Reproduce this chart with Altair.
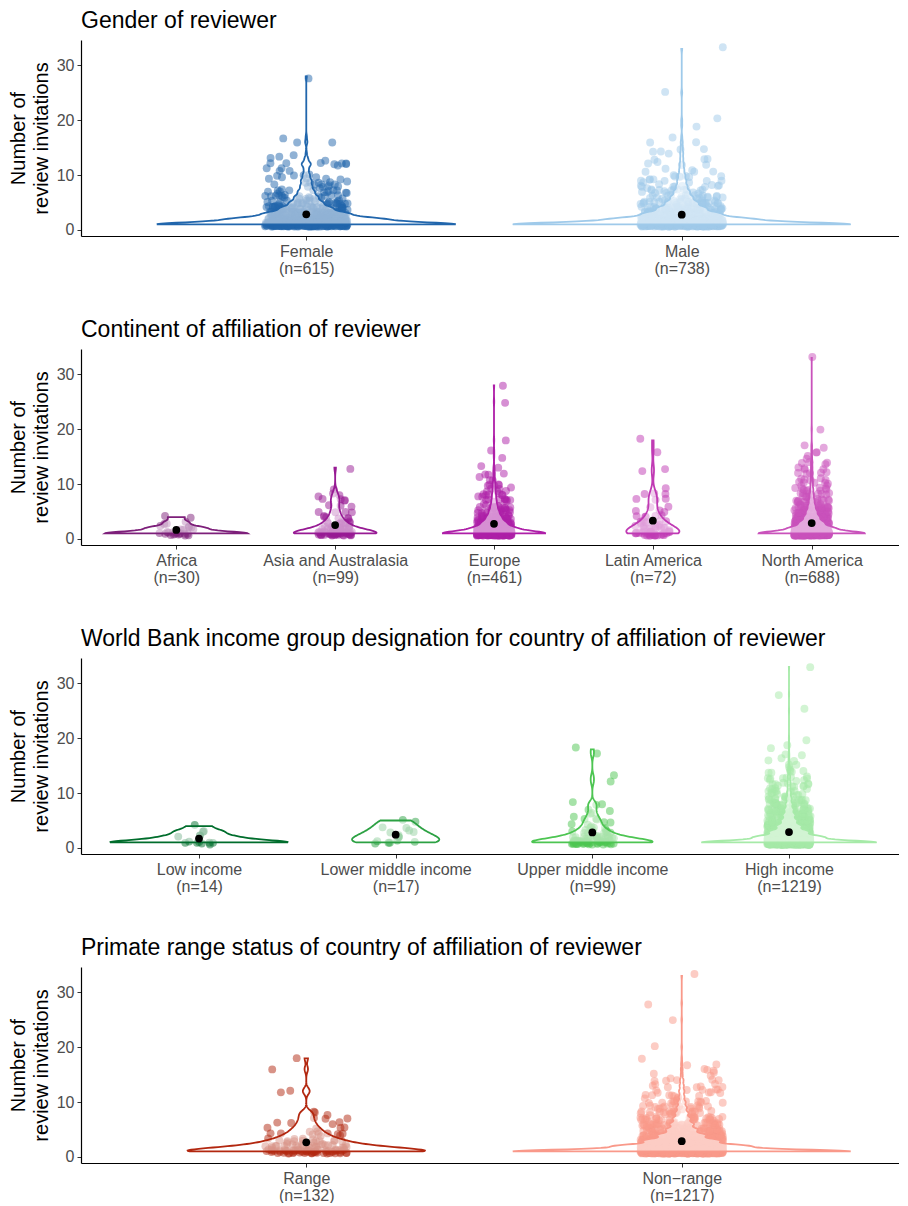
import json
import altair as alt
import pandas as pd

FONT = "Liberation Sans"

# ---------------- data: value (number of review invitations) -> count of reviewers
GENDER_TITLE = "Gender of reviewer"
GENDER_CATS = ["Female", "Male"]
GENDER_N = [615, 738]
GENDER_COLORS = ["#2166ac", "#9fcaea"]
FEMALE_VALUES = [1, 2, 3, 4, 5, 6, 7, 8, 9, 10, 11, 12, 13, 14, 16, 17, 28]
FEMALE_COUNTS = [270, 125, 70, 43, 28, 20, 14, 10, 9, 6, 4, 8, 3, 1, 2, 1, 1]
MALE_VALUES = [1, 2, 3, 4, 5, 6, 7, 8, 9, 10, 11, 12, 13, 14, 15, 16, 17, 19, 20, 25, 33]
MALE_COUNTS = [359, 135, 75, 48, 32, 22, 16, 11, 9, 7, 5, 4, 3, 3, 2, 2, 1, 1, 1, 1, 1]

CONT_TITLE = "Continent of affiliation of reviewer"
CONT_CATS = ["Africa", "Asia and Australasia", "Europe", "Latin America", "North America"]
CONT_N = [30, 99, 461, 72, 688]
CONT_COLORS = ["#7d1f7a", "#971a94", "#ae1fa8", "#c03ab4", "#c952bb"]
AFRICA_VALUES = [1, 2, 3, 4]
AFRICA_COUNTS = [18, 7, 3, 2]
ASIA_VALUES = [1, 2, 3, 4, 5, 6, 7, 8, 9, 13]
ASIA_COUNTS = [49, 18, 10, 6, 4, 3, 4, 3, 1, 1]
EUROPE_VALUES = [1, 2, 3, 4, 5, 6, 7, 8, 9, 10, 11, 12, 13, 15, 16, 18, 25, 28]
EUROPE_COUNTS = [225, 82, 48, 30, 20, 14, 10, 8, 6, 5, 3, 3, 2, 1, 1, 1, 1, 1]
LATAM_VALUES = [1, 2, 3, 4, 5, 6, 7, 8, 9, 12, 13, 16, 18]
LATAM_COUNTS = [30, 13, 8, 5, 3, 2, 3, 3, 1, 1, 1, 1, 1]
NAM_VALUES = [1, 2, 3, 4, 5, 6, 7, 8, 9, 10, 11, 12, 13, 14, 15, 16, 17, 20, 33]
NAM_COUNTS = [325, 125, 70, 45, 32, 22, 16, 12, 9, 7, 5, 5, 4, 4, 2, 2, 2, 1, 1]

INC_TITLE = "World Bank income group designation for country of affiliation of reviewer"
INC_CATS = ["Low income", "Lower middle income", "Upper middle income", "High income"]
INC_N = [14, 17, 99, 1219]
INC_COLORS = ["#006d2c", "#2ca143", "#4dc552", "#a6eaa8"]
LOW_VALUES = [1, 2, 3, 4]
LOW_COUNTS = [8, 3, 2, 1]
LOWMID_VALUES = [1, 2, 3, 4, 5]
LOWMID_COUNTS = [6, 4, 3, 2, 2]
UPMID_VALUES = [1, 2, 3, 4, 5, 6, 7, 8, 12, 13, 17, 18]
UPMID_COUNTS = [48, 18, 10, 6, 5, 3, 2, 3, 1, 1, 1, 1]
HIGH_VALUES = [1, 2, 3, 4, 5, 6, 7, 8, 9, 10, 11, 12, 13, 14, 15, 16, 17, 18, 19, 20, 25, 28, 33]
HIGH_COUNTS = [580, 215, 125, 80, 52, 40, 30, 22, 17, 13, 9, 9, 7, 6, 3, 3, 2, 1, 1, 1, 1, 1, 1]

RANGE_TITLE = "Primate range status of country of affiliation of reviewer"
RANGE_CATS = ["Range", "Non\u2212range"]
RANGE_N = [132, 1217]
RANGE_COLORS = ["#b2270f", "#f9998a"]
RANGE_VALUES = [1, 2, 3, 4, 5, 6, 7, 8, 12, 16, 18]
RANGE_COUNTS = [62, 26, 15, 9, 6, 4, 3, 3, 2, 1, 1]
NONRANGE_VALUES = [1, 2, 3, 4, 5, 6, 7, 8, 9, 10, 11, 12, 13, 14, 15, 16, 17, 18, 20, 25, 28, 33]
NONRANGE_COUNTS = [579, 215, 125, 80, 52, 40, 30, 22, 17, 13, 9, 9, 7, 6, 3, 3, 2, 1, 1, 1, 1, 1]

Y_TICKS = [0, 10, 20, 30]
Y_DOMAIN = [-1.1, 34.6]

PLOT_W = 818
PLOT_H = 196
FULL_W = 826  # width of the original panel (px), trimmed to fit the page


def expand(cats, groups):
    rows = []
    for gi, (cat, (vals, cnts)) in enumerate(zip(cats, groups), start=1):
        i = 0
        for v, c in zip(vals, cnts):
            for _ in range(c):
                rows.append({"grp": cat, "gidx": gi, "value": v, "i": i})
                i += 1
    return pd.DataFrame(rows)


def panel(title, cats, ns, colors, groups):
    n = len(cats)
    df = expand(cats, groups)
    xmax = n + 0.6 - 8 * (n + 0.2) / FULL_W
    xs = alt.Scale(domain=[0.4, xmax], nice=False, zero=False)
    ys = alt.Scale(domain=Y_DOMAIN, nice=False, zero=False)
    cs = alt.Scale(domain=cats, range=colors)
    labels = json.dumps([[c, f"(n={k})"] for c, k in zip(cats, ns)])
    xaxis = alt.Axis(
        title=None, values=list(range(1, n + 1)),
        labelExpr=f"{labels}[datum.value - 1]",
        labelFontSize=16, labelColor="#4d4d4d", labelFont=FONT,
        labelLineHeight=17, labelPadding=3, tickSize=4,
        tickColor="#333333", domainColor="black", domainWidth=1.2,
        grid=False, labelOverlap=False, labelFlush=False,
    )
    yaxis = alt.Axis(
        title=["Number of", "review invitations"], values=Y_TICKS,
        titleFontSize=20, titleFont=FONT, titleFontWeight="normal",
        titleColor="black", titleLineHeight=23, titlePadding=5,
        labelFontSize=16, labelColor="#4d4d4d", labelFont=FONT,
        labelPadding=3, tickSize=4, tickColor="#333333",
        domainColor="black", domainWidth=1.2, grid=False,
    )
    base = alt.Chart(df)
    points = base.transform_calculate(
        hx="sin(datum.i * 12.9898 + datum.gidx * 78.233) * 43758.5453",
        hy="sin(datum.i * 39.3468 + datum.gidx * 11.135) * 24634.6345",
    ).transform_calculate(
        jx="datum.gidx + ((datum.hx - floor(datum.hx)) - 0.5) * 0.22",
        jy="datum.value + ((datum.hy - floor(datum.hy)) - 0.5) * 0.8",
    ).mark_circle(size=62, opacity=0.5).encode(
        x=alt.X("jx:Q", scale=xs, axis=xaxis),
        y=alt.Y("jy:Q", scale=ys, axis=yaxis),
        color=alt.Color("grp:N", scale=cs, legend=None),
    )
    violin = base.transform_joinaggregate(
        gmax="max(value)", groupby=["grp"]
    ).transform_density(
        "value", groupby=["grp", "gidx", "gmax"], steps=400, as_=["v", "dens"]
    ).transform_filter(
        "datum.v <= datum.gmax + 1e-9"
    ).transform_joinaggregate(
        maxd="max(dens)"
    ).transform_calculate(
        lo="datum.gidx - datum.dens / datum.maxd * 0.45",
        hi="datum.gidx + datum.dens / datum.maxd * 0.45",
    ).mark_area(
        orient="horizontal", fill="white", fillOpacity=0.5, strokeWidth=1.8
    ).encode(
        y=alt.Y("v:Q", scale=ys, axis=yaxis),
        x=alt.X("lo:Q", scale=xs, axis=xaxis),
        x2="hi:Q",
        stroke=alt.Stroke("grp:N", scale=cs, legend=None),
        detail="grp:N",
    )
    mean = base.transform_aggregate(
        m="mean(value)", groupby=["gidx"]
    ).mark_circle(size=60, color="black", opacity=1).encode(
        x=alt.X("gidx:Q", scale=xs, axis=xaxis),
        y=alt.Y("m:Q", scale=ys, axis=yaxis),
    )
    return alt.layer(points, violin, mean).properties(
        width=PLOT_W, height=PLOT_H,
        title=alt.TitleParams(
            text=title, anchor="start", frame="group", fontSize=23, font=FONT,
            fontWeight="normal", color="black", offset=7,
        ),
    ).resolve_scale(color="independent", stroke="independent")


p1 = panel(GENDER_TITLE, GENDER_CATS, GENDER_N, GENDER_COLORS,
           [(FEMALE_VALUES, FEMALE_COUNTS), (MALE_VALUES, MALE_COUNTS)])
p2 = panel(CONT_TITLE, CONT_CATS, CONT_N, CONT_COLORS,
           [(AFRICA_VALUES, AFRICA_COUNTS), (ASIA_VALUES, ASIA_COUNTS),
            (EUROPE_VALUES, EUROPE_COUNTS), (LATAM_VALUES, LATAM_COUNTS),
            (NAM_VALUES, NAM_COUNTS)])
p3 = panel(INC_TITLE, INC_CATS, INC_N, INC_COLORS,
           [(LOW_VALUES, LOW_COUNTS), (LOWMID_VALUES, LOWMID_COUNTS),
            (UPMID_VALUES, UPMID_COUNTS), (HIGH_VALUES, HIGH_COUNTS)])
p4 = panel(RANGE_TITLE, RANGE_CATS, RANGE_N, RANGE_COLORS,
           [(RANGE_VALUES, RANGE_COUNTS), (NONRANGE_VALUES, NONRANGE_COUNTS)])

chart = alt.vconcat(p1, p2, p3, p4, spacing=43).resolve_scale(
    color="independent", stroke="independent", x="independent", y="independent"
).configure(
    font=FONT, padding={"left": 0, "top": 2, "right": 0, "bottom": 0}
).configure_view(stroke=None)

chart.save("out.html", embed_options={"renderer": "svg", "actions": False})
